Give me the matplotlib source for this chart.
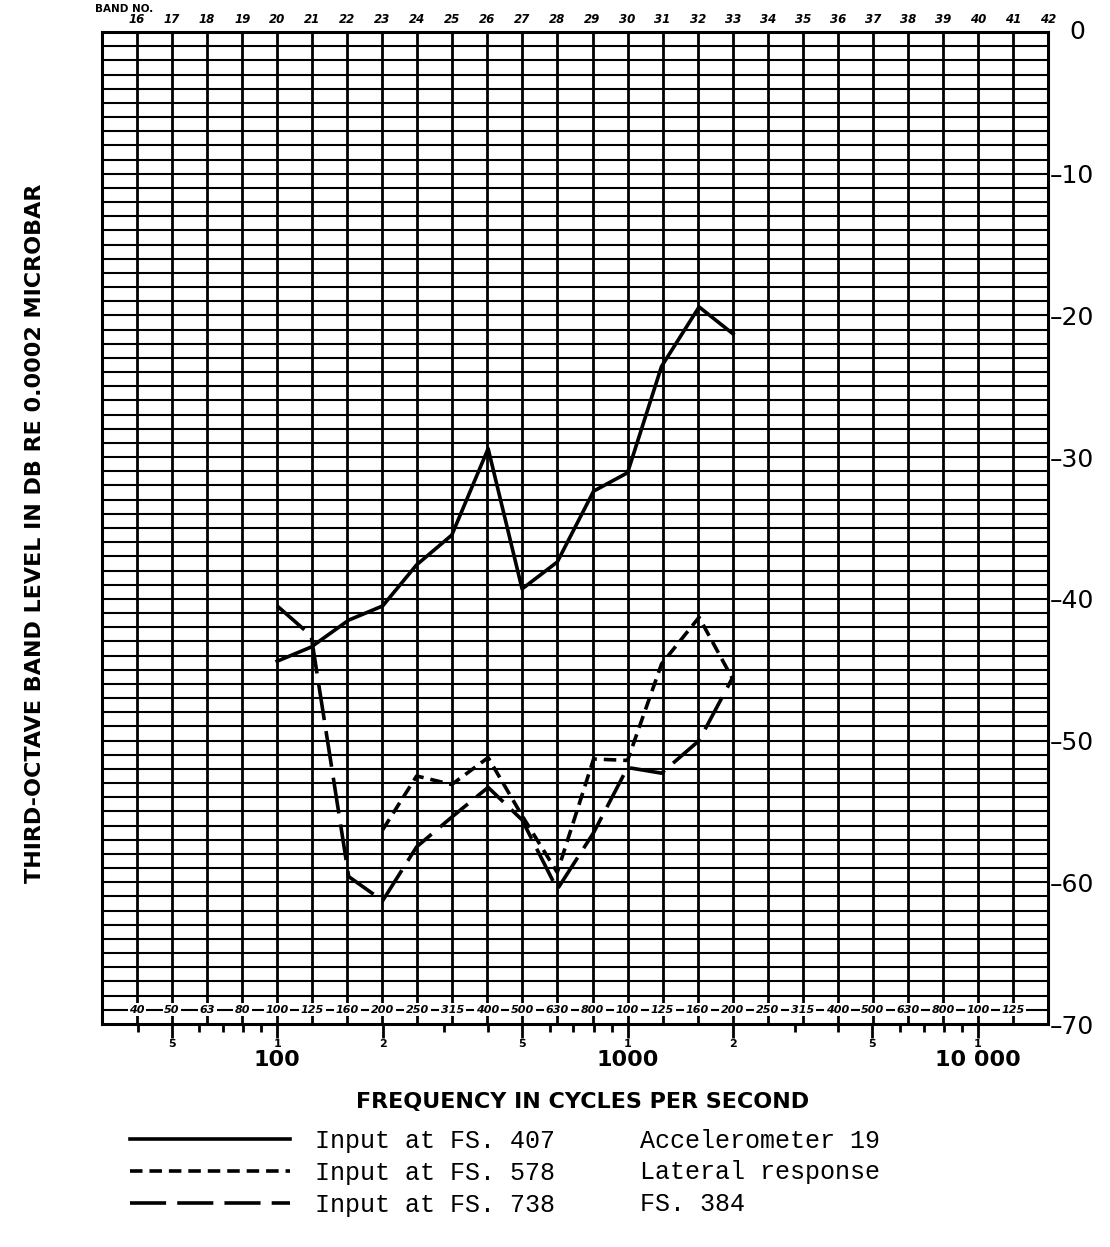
import numpy as np
import matplotlib.pyplot as plt
from matplotlib.lines import Line2D
from matplotlib.ticker import FixedLocator, FixedFormatter, NullFormatter

plt.rcParams['lines.scale_dashes'] = False

# third-octave band centres (Hz) and measured levels
freq_hz = [100, 125, 160, 200, 250, 315, 400, 500, 630, 800, 1000, 1250, 1600, 2000]
level_fs407 = [-44.4, -43.4, -41.5, -40.5, -37.6, -35.5, -29.4, -39.3, -37.4,
               -32.4, -31.1, -23.6, -19.4, -21.3]
freq_fs578 = [200, 250, 315, 400, 500, 630, 800, 1000, 1250, 1600, 2000]
level_fs578 = [-56.3, -52.5, -53.1, -51.2, -55.3, -59.3, -51.3, -51.4, -44.6, -41.3, -45.7]
level_fs738 = [-40.5, -42.6, -59.6, -61.3, -57.5, -55.4, -53.3, -55.6, -60.5,
               -56.5, -51.9, -52.3, -50.0, -45.5]

band_numbers = list(range(16, 43))
band_row_labels = ['40', '50', '63', '80', '100', '125', '160', '200', '250', '315',
                   '400', '500', '630', '800', '100', '125', '160', '200', '250', '315',
                   '400', '500', '630', '800', '100', '125']
major_ticks = [50, 100, 200, 500, 1000, 2000, 5000, 10000]
major_labels = ['5', '1', '2', '5', '1', '2', '5', '1']
minor_ticks = [40, 60, 70, 80, 90, 300, 400, 600, 700, 800, 900,
               3000, 4000, 6000, 7000, 8000, 9000]
decade_labels = [(100, '100'), (1000, '1000'), (10000, '10 000')]
level_ticks = [-10, -20, -30, -40, -50, -60, -70]

legend_labels = ['Input at FS. 407', 'Input at FS. 578', 'Input at FS. 738']
legend_notes = ['Accelerometer 19', 'Lateral response', 'FS. 384']


def band_to_hz(b):
    return 10 ** (np.asarray(b, dtype=float) / 10.0)


def hz_to_band(f):
    return 10 * np.log10(f)


fig = plt.figure(figsize=(11.1, 12.47), dpi=100)
ax = fig.add_axes([102 / 1110, 1 - 1024 / 1247, 946 / 1110, 992 / 1247])
ax.set_xscale('log')
ax.set_xlim(band_to_hz(15), band_to_hz(42))
ax.set_ylim(-70, 0)

# chart paper: 1 dB rows and one column per band
for lvl in range(-69, 0):
    ax.axhline(lvl, color='black', lw=1.5, zorder=1)
for b in band_numbers[:-1]:
    ax.axvline(band_to_hz(b), color='black', lw=2.0, zorder=1)

# nominal centre frequencies written along the bottom row
for b, txt in zip(band_numbers, band_row_labels):
    ax.text(band_to_hz(b), -69, txt, ha='center', va='center', fontsize=8,
            fontweight='bold', fontstyle='italic', zorder=2,
            bbox=dict(facecolor='white', edgecolor='none', pad=1.2))

ax.plot(freq_hz, level_fs407, color='black', lw=2.6, zorder=3)
ax.plot(freq_fs578, level_fs578, color='black', lw=2.6, dashes=(9, 5), zorder=3)
ax.plot(freq_hz, level_fs738, color='black', lw=2.6, dashes=(26, 8), zorder=3)

for sp in ax.spines.values():
    sp.set_linewidth(2.2)

# bottom frequency scale
ax.xaxis.set_major_locator(FixedLocator(major_ticks))
ax.xaxis.set_major_formatter(FixedFormatter(major_labels))
ax.xaxis.set_minor_locator(FixedLocator(minor_ticks))
ax.xaxis.set_minor_formatter(NullFormatter())
ax.tick_params(axis='x', which='major', length=10, width=2, pad=1,
               labelsize=8)
ax.tick_params(axis='x', which='minor', length=6, width=2)
for lab in ax.get_xticklabels():
    lab.set_fontweight('bold')

for f, txt in decade_labels:
    ax.text(f, -0.036, txt, transform=ax.get_xaxis_transform(), ha='center',
            va='center', fontsize=16, fontweight='bold')

# level scale on the right
ax.yaxis.tick_right()
ax.yaxis.set_major_locator(FixedLocator(level_ticks))
ax.yaxis.set_major_formatter(FixedFormatter(['\u2013' + str(-v) for v in level_ticks]))
ax.yaxis.set_minor_formatter(NullFormatter())
ax.tick_params(axis='y', which='both', length=0, pad=1, labelsize=18)
ax.tick_params(axis='y', which='both', left=False)
# zero stands clear of the corner, in line with the digits below it
ax.text(1.031, 0, '0', transform=ax.get_yaxis_transform(), ha='center',
        va='center', fontsize=18)

# band numbers along the top
top = ax.secondary_xaxis('top', functions=(hz_to_band, band_to_hz))
top.set_xscale('linear')
top.xaxis.set_major_locator(FixedLocator(band_numbers))
top.xaxis.set_major_formatter(FixedFormatter([str(b) for b in band_numbers]))
top.xaxis.set_minor_locator(FixedLocator([]))
top.tick_params(axis='x', length=0, pad=4, labelsize=8.5)
for lab in top.get_xticklabels():
    lab.set_fontweight('bold')
    lab.set_fontstyle('italic')
top.spines['top'].set_visible(False)

fig.text(95 / 1110, 1 - 9 / 1247, 'BAND NO.', fontsize=7.5, fontweight='bold',
         ha='left', va='center')

fig.text(35 / 1110, 1 - 533 / 1247, 'THIRD-OCTAVE BAND LEVEL IN DB RE 0.0002 MICROBAR',
         rotation=90, ha='center', va='center', fontsize=16, fontweight='bold')
fig.text(583 / 1110, 1 - 1102 / 1247, 'FREQUENCY IN CYCLES PER SECOND',
         ha='center', va='center', fontsize=16, fontweight='bold')

# legend with the measurement notes alongside
handles = [Line2D([], [], color='black', lw=2.6),
           Line2D([], [], color='black', lw=2.6, dashes=(9, 5)),
           Line2D([], [], color='black', lw=2.6, dashes=(26, 8))]
ax.legend(handles, legend_labels, loc='upper left',
          bbox_to_anchor=(130 / 1110, 1 - 1129 / 1247), bbox_transform=fig.transFigure,
          frameon=False, prop={'family': 'Liberation Mono', 'size': 18},
          handlelength=6.4, handletextpad=1.0, labelspacing=0.32,
          borderpad=0, borderaxespad=0)
for i, note in enumerate(legend_notes):
    fig.text(640 / 1110, 1 - (1141 + 31.5 * i) / 1247, note, family='Liberation Mono',
             fontsize=18, ha='left', va='center')

fig.savefig('out.png', dpi=100)
